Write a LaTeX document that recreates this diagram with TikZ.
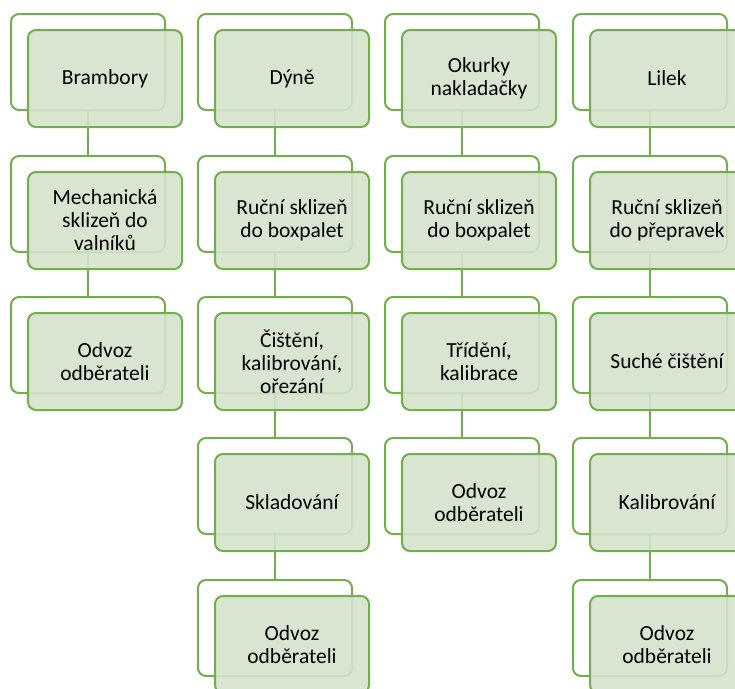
\documentclass[tikz,border=0pt]{standalone}
\usepackage{fontspec}
\setmainfont{Carlito}
\definecolor{lineg}{HTML}{72AE4C}
\definecolor{frontfill}{HTML}{D4E3CB}
\tikzset{
  backbox/.style={draw=lineg, line width=2pt, fill=white, rounded corners=8pt,
    minimum width=154pt, minimum height=96pt, inner sep=0pt},
  frontbox/.style={draw=lineg, line width=2pt, fill=frontfill, fill opacity=0.9,
    draw opacity=1, text opacity=1, rounded corners=8pt, minimum width=154pt, minimum height=97pt,
    inner sep=0pt, align=center, text=black,
    font=\fontsize{21.5}{23}\selectfont},
  conn/.style={draw=lineg, line width=2pt}
}
\begin{document}
\begin{tikzpicture}[x=1pt,y=-1pt]
\useasboundingbox (0,0) rectangle (735,688);
\clip (0,0) rectangle (735,688);
% back boxes
\foreach \c/\x in {1/88,2/275,3/462,4/650}{
  \foreach \r/\y in {1/62,2/204,3/345}{
    \node[backbox] (b\c\r) at (\x,\y) {};
  }
}
\node[backbox] (b24) at (275,486) {};
\node[backbox] (b25) at (275,628) {};
\node[backbox] (b34) at (462,486) {};
\node[backbox] (b44) at (650,486) {};
\node[backbox] (b45) at (650,628) {};
% connectors
\draw[conn] (b11.south) -- (b12.north);
\draw[conn] (b12.south) -- (b13.north);
\draw[conn] (b21.south) -- (b22.north);
\draw[conn] (b22.south) -- (b23.north);
\draw[conn] (b23.south) -- (b24.north);
\draw[conn] (b24.south) -- (b25.north);
\draw[conn] (b31.south) -- (b32.north);
\draw[conn] (b32.south) -- (b33.north);
\draw[conn] (b33.south) -- (b34.north);
\draw[conn] (b41.south) -- (b42.north);
\draw[conn] (b42.south) -- (b43.north);
\draw[conn] (b43.south) -- (b44.north);
\draw[conn] (b44.south) -- (b45.north);
% front boxes
\node[frontbox] (f11) at ([shift={(17,16.5)}]b11.center) {Brambory};
\node[frontbox] (f12) at ([shift={(17,16.5)}]b12.center) {Mechanická\\sklizeň do\\valníků};
\node[frontbox] (f13) at ([shift={(17,16.5)}]b13.center) {Odvoz\\odběrateli};
\node[frontbox] (f21) at ([shift={(17,16.5)}]b21.center) {Dýně};
\node[frontbox] (f22) at ([shift={(17,16.5)}]b22.center) {Ruční sklizeň\\do boxpalet};
\node[frontbox] (f23) at ([shift={(17,16.5)}]b23.center) {Čištění,\\kalibrování,\\ořezání};
\node[frontbox] (f24) at ([shift={(17,16.5)}]b24.center) {Skladování};
\node[frontbox] (f25) at ([shift={(17,16.5)}]b25.center) {Odvoz\\odběrateli};
\node[frontbox] (f31) at ([shift={(17,16.5)}]b31.center) {Okurky\\nakladačky};
\node[frontbox] (f32) at ([shift={(17,16.5)}]b32.center) {Ruční sklizeň\\do boxpalet};
\node[frontbox] (f33) at ([shift={(17,16.5)}]b33.center) {Třídění,\\kalibrace};
\node[frontbox] (f34) at ([shift={(17,16.5)}]b34.center) {Odvoz\\odběrateli};
\node[frontbox] (f41) at ([shift={(17,16.5)}]b41.center) {Lilek};
\node[frontbox] (f42) at ([shift={(17,16.5)}]b42.center) {Ruční sklizeň\\do přepravek};
\node[frontbox] (f43) at ([shift={(17,16.5)}]b43.center) {Suché čištění};
\node[frontbox] (f44) at ([shift={(17,16.5)}]b44.center) {Kalibrování};
\node[frontbox] (f45) at ([shift={(17,16.5)}]b45.center) {Odvoz\\odběrateli};
\end{tikzpicture}
\end{document}
